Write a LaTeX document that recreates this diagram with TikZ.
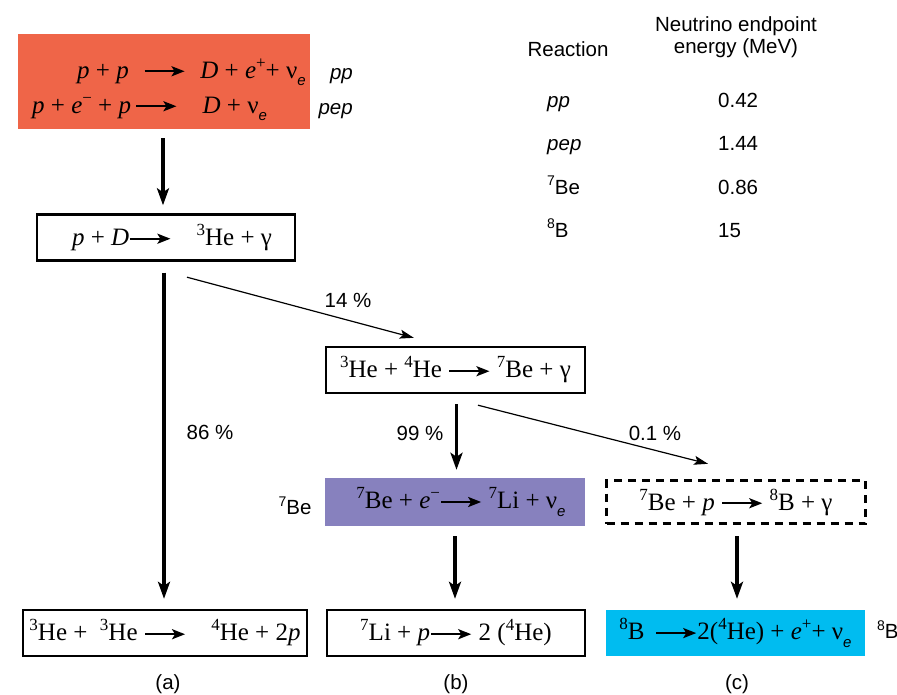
\documentclass[tikz,border=0pt]{standalone}
\usepackage{fontspec}
\setmainfont{Liberation Serif}
\setsansfont{Liberation Sans}
\usetikzlibrary{arrows.meta,calc}
\definecolor{redbox}{HTML}{EF6548}
\definecolor{purplebox}{HTML}{8781BE}
\definecolor{cyanbox}{HTML}{00BCF0}
\newcommand\eqarrow[1][40]{\tikz[baseline=-0.27em]\draw[line width=2.4pt,-{Stealth[length=13pt,width=10pt,inset=3pt]}] (0pt,0pt) -- (#1pt,0pt);}
\newcommand\sups[1]{\raisebox{0.4em}{\fontsize{17}{17}\selectfont #1}}
\newcommand\lsups[1]{\raisebox{0.4em}{\fontsize{14}{14}\selectfont #1}}
\newcommand\subs[1]{\raisebox{-0.3em}{\sffamily\itshape\fontsize{15}{15}\selectfont #1}}
\newcommand\nue{ν\subs{e}}
\tikzset{
  eq/.style={inner sep=0pt, font=\fontsize{25}{29}\selectfont},
  box/.style={draw, line width=2.4pt, inner sep=0pt, font=\fontsize{25}{29}\selectfont},
  lab/.style={inner sep=0pt, font=\sffamily\fontsize{20.5}{24}\selectfont},
  itlab/.style={inner sep=0pt, font=\sffamily\itshape\fontsize{20.5}{24}\selectfont},
  bigarr/.style={line width=3.5pt, -{Stealth[length=17pt,width=12pt,inset=4pt]}},
  thinarr/.style={line width=1.2pt, -{Stealth[length=14pt,width=9pt,inset=3pt]}}
}
\begin{document}
\begin{tikzpicture}[x=1pt,y=-1pt]
\useasboundingbox (0,0) rectangle (897,694);
% boxes
\node[fill=redbox, minimum width=292pt, minimum height=95pt, inner sep=0pt] (red) at (164,81.5) {};
\node[eq, anchor=base west] (l1) at (77,78) {\textit{p} + \textit{p}\,\, \eqarrow\,\, \textit{D} + \textit{e}\sups{+}+ \nue};
\node[eq, anchor=base west] (l2) at (32,113) {\textit{p} + \textit{e}\sups{−} + \textit{p}\,\eqarrow\quad \textit{D} + \nue};
\node[itlab, anchor=base east] (ppl) at (353,79) {pp};
\node[itlab, anchor=base east] (pepl) at (353,114) {pep};

\node[box, minimum width=258pt, minimum height=46pt] (b2) at (166,237.5) {\hspace{12pt}\textit{p} + \textit{D}\eqarrow\quad\sups{3}He + γ};
\node[box, minimum width=259pt, minimum height=46pt] (b3) at (455.5,370) {\sups{3}He + \sups{4}He \eqarrow\ \sups{7}Be + γ};
\node[box, draw=none, fill=purplebox, minimum width=260pt, minimum height=48pt] (b4) at (455,502) {\hspace{12pt}\sups{7}Be + \textit{e}\sups{−}\eqarrow\ \sups{7}Li + \nue};
\node[box, dash pattern=on 8pt off 6pt, minimum width=259pt, minimum height=43pt] (b5) at (736,502) {\sups{7}Be + \textit{p} \eqarrow\ \sups{8}B + γ\hspace{12pt}};
\node[box, minimum width=284pt, minimum height=46pt] (b6) at (165,633) {\sups{3}He +\ \ \sups{3}He \eqarrow\quad \sups{4}He + 2\textit{p}};
\node[box, minimum width=258pt, minimum height=46pt] (b7) at (456,633) {\sups{7}Li + \textit{p}\eqarrow\ 2 (\sups{4}He)};
\node[box, draw=none, fill=cyanbox, minimum width=259pt, minimum height=46pt] (b8) at (735.5,633) {\sups{8}B \,\eqarrow 2(\sups{4}He) + \textit{e}\sups{+}+ \nue};

% side labels
\node[lab] (be7) at (295,506) {\lsups{7}Be};
\node[lab, anchor=west] (b8l) at (877,630) {\lsups{8}B};

% table
\node[lab] (threac) at (568,49) {Reaction};
\node[lab, align=center] (tneut) at (736,37) {Neutrino endpoint\\[-2pt]energy (MeV)};
\node[itlab, anchor=base west] (r1) at (547,107) {pp};
\node[itlab, anchor=base west] (r2) at (547,150) {pep};
\node[lab, anchor=base west] (r3) at (547,194) {\lsups{7}Be};
\node[lab, anchor=base west] (r4) at (547,237) {\lsups{8}B};
\node[lab, anchor=base west] (v1) at (718,107) {0.42};
\node[lab, anchor=base west] (v2) at (718,150) {1.44};
\node[lab, anchor=base west] (v3) at (718,194) {0.86};
\node[lab, anchor=base west] (v4) at (718,237) {15};

% arrows
\draw[bigarr, shorten <=9pt, shorten >=8pt] ([xshift=-1pt]red.south) -- ([xshift=-1pt]red.south |- b2.north);
\draw[bigarr, shorten <=11pt, shorten >=10pt] ([xshift=-1pt]b6.north |- b2.south) -- ([xshift=-1pt]b6.north);
\draw[thinarr] ($(b2.south)+(21,15.5)$) -- ($(b3.north west)+(89,-8)$);
\draw[bigarr, shorten <=10pt, shorten >=7pt] ([xshift=1pt]b3.south) -- ([xshift=1pt]b3.south |- b4.north);
\draw[thinarr] ($(b3.south)+(22.5,11)$) -- ($(b5.north)+(-28,-15.5)$);
\draw[bigarr, shorten <=9pt, shorten >=10pt] (b4.south) -- (b4.south |- b7.north);
\draw[bigarr, shorten <=11.5pt, shorten >=10pt] ([xshift=1pt]b5.south) -- ([xshift=1pt]b5.south |- b8.north);

% percentages
\node[lab] (p14) at (348,300) {14 \%};
\node[lab] (p86) at (210,432) {86 \%};
\node[lab] (p99) at (420,433) {99 \%};
\node[lab] (p01) at (655,433) {0.1 \%};

% captions
\node[lab] (ca) at (168,684) {(a)};
\node[lab] (cb) at (456,684) {(b)};
\node[lab] (cc) at (737,684) {(c)};
\end{tikzpicture}
\end{document}
